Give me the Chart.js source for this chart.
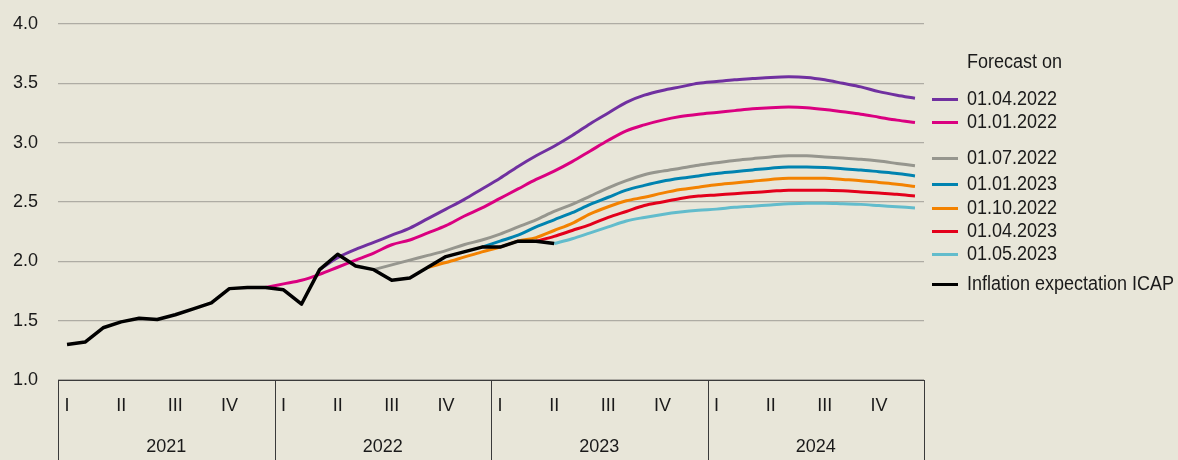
<!DOCTYPE html>
<html>
<head>
<meta charset="utf-8">
<script src="https://cdn.jsdelivr.net/npm/chart.js@4.4.1/dist/chart.umd.min.js"></script>
<style>
  html, body { margin: 0; padding: 0; background: #e8e6d9; }
  #wrap { position: relative; width: 1178px; height: 460px; overflow: hidden; }
  canvas { position: absolute; left: 0; top: 0; }
  #legend { position: absolute; left: 0; top: 0; width: 1178px; height: 460px; pointer-events: none;
            font-family: "Liberation Sans", Arial, sans-serif; font-size: 20px; color: #1a1a1a; }
  .lt { position: absolute; left: 967px; line-height: 20px; white-space: nowrap; transform: scaleX(0.9); transform-origin: 0 50%; }
  .sw { position: absolute; left: 932px; width: 26px; height: 3px; }
</style>
</head>
<body>
<div id="wrap">
  <canvas id="c" width="1178" height="460"></canvas>
  <div id="legend"></div>
</div>
<script>
// ---- Data ----
const years = ['2021', '2022', '2023', '2024'];
const quarters = ['I', 'II', 'III', 'IV'];
const yTicks = [1.0, 1.5, 2.0, 2.5, 3.0, 3.5, 4.0];

// Monthly inflation expectation ICAP, Jan 2021 - Apr 2023
const icap = [1.30, 1.32, 1.44, 1.49, 1.52, 1.51, 1.55, 1.60, 1.65, 1.77, 1.78, 1.78,
              1.76, 1.64, 1.93, 2.06, 1.96, 1.93, 1.84, 1.86, 1.95, 2.04, 2.08, 2.12,
              2.12, 2.17, 2.17, 2.15];

// Forecasts (monthly values, starting month index given separately)
const fc20220101Start = 11;
const fc20220101 = [1.78, 1.81, 1.84, 1.89, 1.95, 2.01, 2.07, 2.14, 2.18, 2.24, 2.30, 2.38,
                    2.45, 2.53, 2.61, 2.69, 2.76, 2.84, 2.93, 3.02, 3.10, 3.15, 3.19, 3.22,
                    3.24, 3.255, 3.27, 3.285, 3.295, 3.30, 3.295, 3.28, 3.26, 3.24, 3.215, 3.19, 3.17];
const fc20220401Start = 14;
const fc20220401 = [1.93, 2.03, 2.10, 2.16, 2.22, 2.28, 2.36, 2.44, 2.52, 2.61, 2.70, 2.80,
                    2.89, 2.97, 3.06, 3.16, 3.25, 3.34, 3.40, 3.44, 3.47, 3.50, 3.515, 3.53,
                    3.54, 3.55, 3.555, 3.55, 3.53, 3.50, 3.47, 3.43, 3.40, 3.375];
const fc20220701Start = 17;
const fc20220701 = [1.93, 1.97, 2.01, 2.05, 2.09, 2.14, 2.18, 2.23, 2.29, 2.35, 2.42, 2.48,
                    2.55, 2.62, 2.68, 2.73, 2.76, 2.785, 2.81, 2.83, 2.85, 2.865, 2.88, 2.89,
                    2.89, 2.88, 2.87, 2.86, 2.845, 2.825, 2.805];
const fc20221001Start = 20;
const fc20221001 = [1.95, 1.99, 2.035, 2.08, 2.12, 2.17, 2.20, 2.26, 2.32, 2.40, 2.46, 2.51,
                    2.54, 2.575, 2.605, 2.625, 2.645, 2.66, 2.675, 2.69, 2.70, 2.70, 2.70, 2.69,
                    2.68, 2.665, 2.65, 2.63];
const fc20230101Start = 23;
const fc20230101 = [2.12, 2.17, 2.22, 2.29, 2.35, 2.41, 2.48, 2.54, 2.60, 2.64, 2.675, 2.70,
                    2.72, 2.74, 2.755, 2.77, 2.785, 2.795, 2.795, 2.79, 2.78, 2.77, 2.755, 2.74, 2.72];
const fc20230401Start = 26;
const fc20230401 = [2.17, 2.21, 2.26, 2.31, 2.37, 2.42, 2.47, 2.50, 2.53, 2.55, 2.56, 2.57,
                    2.58, 2.59, 2.60, 2.60, 2.60, 2.595, 2.585, 2.575, 2.565, 2.55];
const fc20230501Start = 27;
const fc20230501 = [2.15, 2.19, 2.24, 2.29, 2.34, 2.37, 2.395, 2.415, 2.43, 2.44, 2.455, 2.465,
                    2.475, 2.485, 2.49, 2.49, 2.485, 2.48, 2.47, 2.46, 2.45];

// ---- Build ----
const N = years.length * 12;
const labels = [];
for (let y = 0; y < years.length; y++) for (let m = 0; m < 12; m++) labels.push(years[y] + '-' + (m + 1));
function pad(start, vals) {
  const a = new Array(N).fill(null);
  vals.forEach((v, i) => { a[start + i] = v; });
  return a;
}

const FONT = '"Liberation Sans", Arial, sans-serif';
const TICK_SIZE = 18;

const series = [
  { label: 'Inflation expectation ICAP', data: pad(0, icap), color: '#000000', w: 3.5, tension: 0, legendY: 284, order: 0 },
  { label: '01.04.2022', data: pad(fc20220401Start, fc20220401), color: '#7030a0', w: 3, legendY: 99, order: 1 },
  { label: '01.01.2022', data: pad(fc20220101Start, fc20220101), color: '#da0080', w: 3, legendY: 122, order: 2 },
  { label: '01.07.2022', data: pad(fc20220701Start, fc20220701), color: '#96968e', w: 3, legendY: 158, order: 3 },
  { label: '01.01.2023', data: pad(fc20230101Start, fc20230101), color: '#0083b0', w: 3, legendY: 184, order: 4 },
  { label: '01.10.2022', data: pad(fc20221001Start, fc20221001), color: '#f38200', w: 3, legendY: 208, order: 5 },
  { label: '01.04.2023', data: pad(fc20230401Start, fc20230401), color: '#e3001b', w: 3, legendY: 231, order: 6 },
  { label: '01.05.2023', data: pad(fc20230501Start, fc20230501), color: '#62bccc', w: 3, legendY: 254, order: 7 },
];

const datasets = series.map(s => ({
  label: s.label,
  data: s.data,
  borderColor: s.color,
  backgroundColor: s.color,
  borderWidth: s.w,
  pointRadius: 0,
  tension: s.tension === 0 ? 0 : 0.35,
  cubicInterpolationMode: s.tension === 0 ? 'default' : 'monotone',
  borderJoinStyle: 'round',
  borderCapStyle: 'butt',
  order: s.order,
  fill: false
}));

const axisBox = {
  id: 'axisBox',
  afterDraw(chart) {
    const ctx = chart.ctx;
    const a = chart.chartArea;
    const xs = chart.scales.x;
    const bottom = chart.height;
    ctx.save();
    ctx.strokeStyle = '#3a3a3a';
    ctx.lineWidth = 1;
    ctx.beginPath();
    ctx.moveTo(a.left, Math.round(a.bottom) + 0.5);
    ctx.lineTo(a.right, Math.round(a.bottom) + 0.5);
    for (let k = 0; k <= years.length; k++) {
      let xb;
      if (k === 0) xb = a.left;
      else if (k === years.length) xb = a.right;
      else xb = (xs.getPixelForValue(12 * k) + xs.getPixelForValue(12 * k - 1)) / 2;
      xb = Math.round(xb) + 0.5;
      ctx.moveTo(xb, a.bottom);
      ctx.lineTo(xb, bottom);
    }
    ctx.stroke();
    ctx.fillStyle = '#1a1a1a';
    ctx.font = TICK_SIZE + 'px ' + FONT;
    ctx.textAlign = 'center';
    ctx.textBaseline = 'middle';
    for (let k = 0; k < years.length; k++) {
      const cx = (xs.getPixelForValue(12 * k) + xs.getPixelForValue(12 * k + 11)) / 2;
      ctx.fillText(years[k], cx, 447);
    }
    ctx.restore();
  }
};

new Chart(document.getElementById('c'), {
  type: 'line',
  data: { labels, datasets },
  plugins: [axisBox],
  options: {
    responsive: false,
    animation: false,
    devicePixelRatio: 1,
    layout: { padding: { top: 24, right: 254, left: 0, bottom: 0 } },
    plugins: { legend: { display: false }, tooltip: { enabled: false } },
    scales: {
      x: {
        type: 'category',
        offset: true,
        grid: { display: false, drawTicks: false },
        border: { display: false },
        ticks: {
          autoSkip: false, maxRotation: 0, minRotation: 0, padding: 15,
          color: '#1a1a1a', font: { family: FONT, size: TICK_SIZE },
          callback: (v, i) => (i % 3 === 0 ? quarters[(i / 3) % 4] : '')
        },
        afterFit: s => { s.height = 80; s.paddingLeft = 0; s.paddingRight = 0; }
      },
      y: {
        min: 1, max: 4,
        afterBuildTicks: s => { s.ticks = yTicks.map(v => ({ value: v })); },
        grid: { color: '#aeaca4', lineWidth: 1.2, drawTicks: false },
        border: { display: false },
        ticks: {
          padding: 20, color: '#1a1a1a', font: { family: FONT, size: TICK_SIZE },
          callback: v => Number(v).toFixed(1)
        },
        afterFit: s => { s.width = 58; s.paddingTop = 0; s.paddingBottom = 0; }
      }
    }
  }
});

// ---- HTML legend ----
const leg = document.getElementById('legend');
const title = document.createElement('div');
title.className = 'lt';
title.style.top = (61 - 10) + 'px';
title.textContent = 'Forecast on';
leg.appendChild(title);
series.forEach(s => {
  const sw = document.createElement('div');
  sw.className = 'sw';
  sw.style.top = (s.legendY - 1) + 'px';
  sw.style.background = s.color;
  leg.appendChild(sw);
  const t = document.createElement('div');
  t.className = 'lt';
  t.style.top = (s.legendY - 11) + 'px';
  t.textContent = s.label;
  leg.appendChild(t);
});
</script>
</body>
</html>
